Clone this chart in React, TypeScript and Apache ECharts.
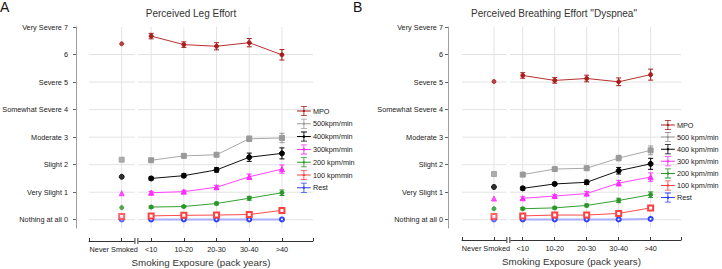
import React, { useEffect, useRef } from 'react';
import * as echarts from 'echarts';

const categories = ['Never Smoked', '<10', '10-20', '20-30', '30-40', '>40'];
const catPos = [0.1, 1, 2, 3, 4, 5];
const yLevelLabels = ['Nothing at all 0', 'Very Slight 1', 'Slight 2', 'Moderate 3', 'Somewhat Severe 4', 'Severe 5', '6', 'Very Severe 7'];
const yTicks = [0, 1, 2, 3, 4, 5, 6, 7];
const yGridLevels = [0, 1, 2, 3, 4, 5, 6];

const titleA = 'Perceived Leg Effort';
const titleB = 'Perceived Breathing Effort "Dyspnea"';
const xTitle = 'Smoking Exposure (pack years)';

const namesA = ['MPO', '500kpm/min', '400kpm/min', '300kpm/min', '200 kpm/min', '100 kpmmin', 'Rest'];
const namesB = ['MPO', '500 kpm/min', '400 kpm/min', '300 kpm/min', '200 kpm/min', '100 kpm/min', 'Rest'];

// Panel A values (Never Smoked, <10, 10-20, 20-30, 30-40, >40)
const legMPO = [6.39, 6.67, 6.36, 6.3, 6.43, 5.99];
const leg500 = [2.18, 2.16, 2.32, 2.36, 2.94, 2.97];
const leg400 = [1.56, 1.5, 1.6, 1.81, 2.27, 2.41];
const leg300 = [0.96, 0.98, 1.02, 1.18, 1.56, 1.84];
const leg200 = [0.44, 0.46, 0.48, 0.59, 0.78, 0.98];
const leg100 = [0.12, 0.14, 0.16, 0.17, 0.19, 0.34];
const legRest = [0.01, 0.01, 0.01, 0.01, 0.01, 0.01];
// errors (exposure categories only)
const legMPOErr = [0.1, 0.1, 0.13, 0.15, 0.19];
const leg500Err = [0.05, 0.06, 0.06, 0.1, 0.17];
const leg400Err = [0.06, 0.07, 0.08, 0.15, 0.2];
const leg300Err = [0.05, 0.05, 0.07, 0.1, 0.15];
const leg200Err = [0.04, 0.04, 0.05, 0.07, 0.1];
const leg100Err = [0.05, 0.05, 0.05, 0.05, 0.08];
const legRestErr = [0.01, 0.01, 0.01, 0.01, 0.01];

// Panel B values
const dysMPO = [5.02, 5.24, 5.06, 5.13, 5.01, 5.27];
const dys500 = [1.66, 1.64, 1.84, 1.87, 2.24, 2.52];
const dys400 = [1.19, 1.14, 1.3, 1.36, 1.78, 2.03];
const dys300 = [0.77, 0.78, 0.86, 0.95, 1.33, 1.55];
const dys200 = [0.4, 0.4, 0.43, 0.52, 0.7, 0.91];
const dys100 = [0.12, 0.14, 0.17, 0.17, 0.23, 0.43];
const dysRest = [0.01, 0.01, 0.01, 0.01, 0.01, 0.03];
const dysMPOErr = [0.1, 0.1, 0.12, 0.14, 0.2];
const dys500Err = [0.05, 0.06, 0.06, 0.1, 0.16];
const dys400Err = [0.06, 0.06, 0.08, 0.12, 0.2];
const dys300Err = [0.05, 0.05, 0.08, 0.1, 0.15];
const dys200Err = [0.04, 0.04, 0.05, 0.08, 0.1];
const dys100Err = [0.05, 0.05, 0.05, 0.05, 0.08];
const dysRestErr = [0.01, 0.01, 0.01, 0.01, 0.02];

const FONT = 'Liberation Sans, Arial, sans-serif';

const styles = [
  { color: '#a81c1c', line: '#b83030', symbol: 'circle', size: 4, lw: 1 },
  { color: '#9a9a9a', line: '#a8a8a8', symbol: 'rect', size: 5, lw: 1 },
  { color: '#000000', line: '#111111', symbol: 'circle', size: 5, lw: 1 },
  { color: '#ff2cff', line: '#ff44ff', symbol: 'triangle', size: 5, lw: 1 },
  { color: '#2a962a', line: '#33a033', symbol: 'circle', size: 4, lw: 1 },
  { color: '#ff4040', line: '#ff4a4a', symbol: 'emptyRect', size: 5, lw: 1 },
  { color: '#3040ff', line: '#aab0ff', symbol: 'emptyCircle', size: 4, lw: 2 },
];

const legendIcon =
  'path://M0 5.4H16V6.6H0Z M7.5 0.5H8.5V11.5H7.5Z M4.5 0.2H11.5V1.1H4.5Z M4.5 10.9H11.5V11.8H4.5Z M6.8 4.8H9.2V7.2H6.8Z';

function buildPanel(gi: number, names: string[], vals: number[][], errs: number[][]) {
  const series: any[] = [];
  const gridData = [
    ...yGridLevels.map((v) => [0, v]),
    ...catPos.map((v) => [1, v]),
  ];
  series.push({
    type: 'custom',
    xAxisIndex: gi,
    yAxisIndex: gi,
    silent: true,
    z: 1,
    data: gridData,
    encode: { x: -1, y: -1 } as any,
    renderItem: (params: any, api: any) => {
      const cs = params.coordSys;
      const kind = api.value(0);
      const v = api.value(1);
      const style = { stroke: '#e3e3e3', lineWidth: 1 };
      if (kind === 0) {
        const p = api.coord([0, v]);
        return { type: 'line', shape: { x1: cs.x, y1: p[1], x2: cs.x + cs.width, y2: p[1] }, style };
      }
      const p = api.coord([v, 0]);
      return { type: 'line', shape: { x1: p[0], y1: cs.y, x2: p[0], y2: cs.y + cs.height }, style };
    },
  });
  series.push({
    type: 'custom',
    xAxisIndex: gi,
    yAxisIndex: gi,
    silent: true,
    z: 1.5,
    data: [[0.5, 0.6]],
    encode: { x: -1, y: -1 } as any,
    renderItem: (params: any, api: any) => {
      const cs = params.coordSys;
      const a = api.coord([api.value(0), 0]);
      const b = api.coord([api.value(1), 0]);
      return { type: 'rect', shape: { x: a[0], y: cs.y - 1, width: b[0] - a[0], height: cs.height + 2 }, style: { fill: '#ffffff' } };
    },
  });
  names.forEach((name, k) => {
    const st = styles[k];
    const v = vals[k];
    const e = errs[k];
    series.push({
      name,
      type: 'line',
      xAxisIndex: gi,
      yAxisIndex: gi,
      z: 3 + (names.length - k),
      data: catPos.slice(1).map((x, i) => [x, v[i + 1]]),
      symbol: st.symbol,
      symbolSize: st.size,
      itemStyle: { color: st.color, borderColor: st.color, borderWidth: 1 },
      lineStyle: { color: st.line, width: st.lw },
    });
    series.push({
      name,
      type: 'scatter',
      xAxisIndex: gi,
      yAxisIndex: gi,
      z: 3 + (names.length - k),
      data: [[catPos[0], v[0]]],
      symbol: st.symbol,
      symbolSize: st.size,
      itemStyle: { color: st.color, borderColor: st.color, borderWidth: 1 },
    });
    series.push({
      name,
      type: 'custom',
      xAxisIndex: gi,
      yAxisIndex: gi,
      z: 3 + (names.length - k),
      encode: { x: 0, y: 1 },
      data: catPos.slice(1).map((x, i) => [x, v[i + 1], e[i]]),
      renderItem: (params: any, api: any) => {
        const x = api.value(0);
        const y = api.value(1);
        const er = api.value(2);
        const top = api.coord([x, y + er]);
        const bot = api.coord([x, y - er]);
        const hw = 2.5;
        const style = { stroke: st.color, lineWidth: 1 };
        return {
          type: 'group',
          children: [
            { type: 'line', shape: { x1: top[0], y1: top[1], x2: bot[0], y2: bot[1] }, style },
            { type: 'line', shape: { x1: top[0] - hw, y1: top[1], x2: top[0] + hw, y2: top[1] }, style },
            { type: 'line', shape: { x1: bot[0] - hw, y1: bot[1], x2: bot[0] + hw, y2: bot[1] }, style },
          ],
        };
      },
    });
  });
  return series;
}

function xAxisFor(gi: number, offset: number) {
  return {
    type: 'value',
    gridIndex: gi,
    min: -0.9,
    max: 5.95,
    offset,
    axisLine: { show: true, onZero: false, lineStyle: { color: '#333', width: 1 } },
    axisTick: { show: true, inside: true, length: 3, lineStyle: { color: '#333' }, customValues: [-0.9, ...catPos, 5.95] },
    axisLabel: {
      customValues: catPos,
      margin: 5,
      fontSize: 7.3,
      fontFamily: FONT,
      color: '#222',
      formatter: (val: number) => {
        let idx = 0;
        let best = 1e9;
        catPos.forEach((p, i) => {
          if (Math.abs(p - val) < best) {
            best = Math.abs(p - val);
            idx = i;
          }
        });
        return idx === 0 ? '{n|' + categories[0] + '}' : categories[idx];
      },
      rich: { n: { fontSize: 7.3, fontFamily: FONT, color: '#222', padding: [0, 16, 0, 0] } },
    },
    splitLine: { show: false },
    name: xTitle,
    nameLocation: 'middle',
    nameGap: 16,
    nameMoveOverlap: false,
    nameTextStyle: { fontSize: 9.8, fontFamily: FONT, color: '#333' },
  };
}

function yAxisFor(gi: number, offset: number, margin: number) {
  return {
    type: 'value',
    gridIndex: gi,
    min: -0.3,
    max: 7,
    offset,
    axisLine: { show: true, onZero: false, lineStyle: { color: '#9a9a9a', width: 1 } },
    axisTick: { show: true, length: 3, lineStyle: { color: '#666' }, customValues: yTicks },
    axisLabel: {
      customValues: yTicks,
      margin,
      fontSize: 7.3,
      fontFamily: FONT,
      color: '#222',
      formatter: (v: number) => yLevelLabels[Math.round(v)] ?? '',
    },
    splitLine: { show: false },
  };
}

function legendFor(names: string[], left: number, top: number, gap: number) {
  return {
    orient: 'vertical',
    left,
    top,
    itemWidth: 14,
    itemHeight: 10,
    itemGap: gap,
    padding: 0,
    selectedMode: false,
    itemStyle: { borderWidth: 0 },
    data: names.map((n) => ({ name: n, icon: legendIcon, textStyle: { color: '#222' } })),
    textStyle: { fontSize: 7.3, fontFamily: FONT, color: '#222', padding: [0, 0, 0, -3] },
  };
}

export default function App() {
  const ref = useRef<HTMLDivElement>(null);
  useEffect(() => {
    document.body.style.margin = '0';
    if (!ref.current) return;
    const chart = echarts.init(ref.current, undefined, { renderer: 'svg' });
    const valsA = [legMPO, leg500, leg400, leg300, leg200, leg100, legRest];
    const errsA = [legMPOErr, leg500Err, leg400Err, leg300Err, leg200Err, leg100Err, legRestErr];
    const valsB = [dysMPO, dys500, dys400, dys300, dys200, dys100, dysRest];
    const errsB = [dysMPOErr, dys500Err, dys400Err, dys300Err, dys200Err, dys100Err, dysRestErr];
    const grids = [
      { left: 89, right: 409, top: 27, bottom: 41, outerBoundsMode: 'none', containLabel: false },
      { left: 462, right: 41, top: 27, bottom: 41, outerBoundsMode: 'none', containLabel: false },
    ];
    const xOffsets = [13, 12];
    const yOffsets = [13, 14];
    chart.setOption({
      animation: false,
      backgroundColor: '#ffffff',
      textStyle: { fontFamily: FONT },
      grid: grids,
      xAxis: [xAxisFor(0, xOffsets[0]), xAxisFor(1, xOffsets[1])],
      yAxis: [yAxisFor(0, yOffsets[0], 8), yAxisFor(1, yOffsets[1], 5)],
      legend: [legendFor(namesA, 297, 106, 2.8), legendFor(namesB, 661, 120, 2.1)],
      series: [...buildPanel(0, namesA, valsA, errsA), ...buildPanel(1, namesB, valsB, errsB)],
    });
    const H = 269;
    const deco: any[] = [];
    [0, 1].forEach((gi) => {
      const p = chart.convertToPixel({ xAxisIndex: gi, yAxisIndex: gi } as any, [0.55, 0]) as number[];
      const ay = H - grids[gi].bottom + xOffsets[gi];
      const bx = p[0];
      deco.push(
        { type: 'rect', shape: { x: bx - 2, y: ay - 3, width: 4, height: 6 }, style: { fill: '#fff' }, z: 100 },
        { type: 'line', shape: { x1: bx - 1.5, y1: ay - 3, x2: bx - 1.5, y2: ay + 3 }, style: { stroke: '#333', lineWidth: 1 }, z: 101 },
        { type: 'line', shape: { x1: bx + 1.5, y1: ay - 3, x2: bx + 1.5, y2: ay + 3 }, style: { stroke: '#333', lineWidth: 1 }, z: 101 }
      );
      // y axis spine
      const top = chart.convertToPixel({ xAxisIndex: gi, yAxisIndex: gi } as any, [0, 7]) as number[];
      const bot = chart.convertToPixel({ xAxisIndex: gi, yAxisIndex: gi } as any, [0, -0.2]) as number[];
      const sx = Math.round(grids[gi].left - yOffsets[gi]) + 0.5;
      deco.push({ type: 'line', shape: { x1: sx, y1: top[1], x2: sx, y2: bot[1] }, style: { stroke: '#a0a0a0', lineWidth: 1 }, z: 50 });
    });
    chart.setOption({
      graphic: [
        { type: 'text', left: 0, top: 0, style: { text: 'A', fontSize: 14, fontFamily: FONT, fill: '#111' } },
        { type: 'text', left: 353, top: 0, style: { text: 'B', fontSize: 14, fontFamily: FONT, fill: '#111' } },
        { type: 'text', x: 191, y: 13, style: { text: titleA, fontSize: 10, fontFamily: FONT, fill: '#333', align: 'center', verticalAlign: 'middle' } },
        { type: 'text', x: 554, y: 13, style: { text: titleB, fontSize: 10, fontFamily: FONT, fill: '#333', align: 'center', verticalAlign: 'middle' } },
        ...deco,
      ],
    });
    return () => chart.dispose();
  }, []);
  return <div ref={ref} style={{ width: 722, height: 269 }} />;
}
